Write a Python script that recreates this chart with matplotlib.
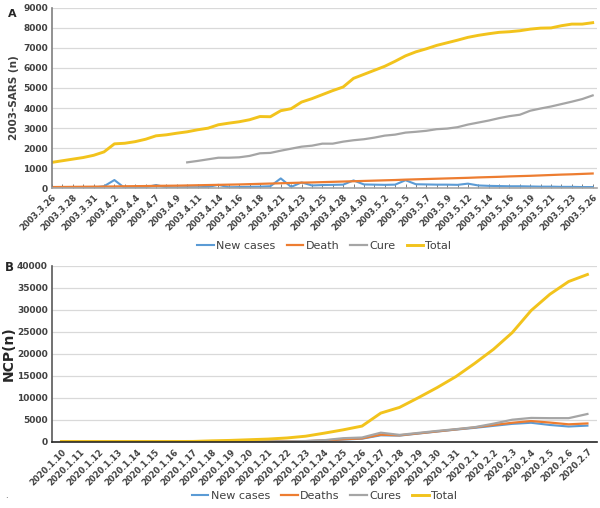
import numpy as np
import matplotlib
matplotlib.use('Agg')
import matplotlib.pyplot as plt

# ---- panel A: 2003 SARS (no Sundays in the series) ----
dates_a = ['2003.3.26', '2003.3.27', '2003.3.28', '2003.3.29', '2003.3.31',
           '2003.4.1', '2003.4.2', '2003.4.3', '2003.4.4', '2003.4.5', '2003.4.7',
           '2003.4.8', '2003.4.9', '2003.4.10', '2003.4.11', '2003.4.12', '2003.4.14',
           '2003.4.15', '2003.4.16', '2003.4.17', '2003.4.18', '2003.4.19', '2003.4.21',
           '2003.4.22', '2003.4.23', '2003.4.24', '2003.4.25', '2003.4.26', '2003.4.28',
           '2003.4.29', '2003.4.30', '2003.5.1', '2003.5.2', '2003.5.3', '2003.5.5',
           '2003.5.6', '2003.5.7', '2003.5.8', '2003.5.9', '2003.5.10', '2003.5.12',
           '2003.5.13', '2003.5.14', '2003.5.15', '2003.5.16', '2003.5.17', '2003.5.19',
           '2003.5.20', '2003.5.21', '2003.5.22', '2003.5.23', '2003.5.24', '2003.5.26']
new_a = [30, 30, 30, 30, 40, 110, 420, 20, 40, 60,
         170, 60, 50, 60, 60, 80, 180, 60, 70, 80,
         90, 110, 500, 80, 300, 150, 170, 180, 190, 400,
         200, 190, 180, 190, 410, 210, 200, 190, 190, 180,
         240, 150, 130, 120, 110, 110, 100, 90, 90, 80,
         80, 70, 70]
death_a = [70, 75, 80, 85, 90, 95, 100, 110, 115, 120,
           130, 135, 140, 150, 160, 170, 180, 190, 200, 215,
           230, 245, 260, 275, 290, 300, 315, 330, 345, 360,
           375, 390, 405, 420, 440, 455, 470, 485, 500, 515,
           530, 550, 565, 580, 600, 615, 630, 650, 670, 690,
           705, 725, 745]
cure_a = [np.nan] * 13 + [1300, 1370, 1450, 1530, 1530,
          1550, 1620, 1750, 1770, 1880, 1980, 2080, 2130, 2230, 2230,
          2330, 2400, 2450, 2530, 2630, 2680, 2780,
          2820, 2870, 2950, 2980, 3050,
          3180, 3280, 3380, 3500, 3600, 3670, 3870, 3980, 4080, 4200, 4320, 4450, 4630]
total_a = [1300, 1380, 1460, 1540, 1650, 1820, 2220, 2250, 2330, 2450,
           2620, 2670, 2750, 2820, 2920, 3000, 3170, 3250, 3320, 3420,
           3580, 3570, 3870, 3970, 4300, 4470, 4670, 4870, 5050, 5480,
           5680, 5880, 6080, 6330, 6600, 6800, 6950, 7120, 7250, 7380,
           7520, 7620, 7700, 7770, 7800, 7850, 7930, 7980, 7990, 8100,
           8180, 8180, 8250]

# ---- panel B: 2020 NCP ----
dates_b = ['2020.1.10', '2020.1.11', '2020.1.12', '2020.1.13', '2020.1.14', '2020.1.15',
           '2020.1.16', '2020.1.17', '2020.1.18', '2020.1.19', '2020.1.20', '2020.1.21',
           '2020.1.22', '2020.1.23', '2020.1.24', '2020.1.25', '2020.1.26', '2020.1.27',
           '2020.1.28', '2020.1.29', '2020.1.30', '2020.1.31', '2020.2.1', '2020.2.2',
           '2020.2.3', '2020.2.4', '2020.2.5', '2020.2.6', '2020.2.7']
new_b = [0, 0, 0, 0, 0, 0, 0, 3, 8, 15, 25, 40, 60, 110, 250, 480, 680, 1450,
         1380, 1850, 2300, 2750, 3150, 3600, 4050, 4300, 3800, 3450, 3650]
death_b = [0, 0, 0, 0, 0, 0, 0, 5, 10, 20, 30, 45, 70, 130, 300, 550, 750, 1600,
           1450, 1900, 2350, 2800, 3250, 3800, 4300, 4700, 4350, 3950, 4150]
cure_b = [0, 0, 0, 0, 0, 0, 0, 5, 10, 20, 30, 50, 80, 150, 350, 800, 950, 2050,
          1550, 2000, 2450, 2850, 3300, 4100, 5000, 5400, 5350, 5350, 6300]
total_b = [41, 41, 41, 41, 41, 41, 45, 62, 200, 300, 450, 600, 850, 1250, 1950,
           2700, 3550, 6500, 7800, 10000, 12300, 14800, 17800, 21000, 24800,
           29800, 33500, 36400, 38000]

colors = ['#5B9BD5', '#ED7D31', '#A5A5A5', '#F2C31C']
txt = '#404040'


def style_axes(ax, ymax, ystep, left_col, bottom_col):
  for s in ['top', 'right']:
    ax.spines[s].set_visible(False)
  ax.spines['left'].set_color(left_col)
  ax.spines['left'].set_linewidth(1.2)
  ax.spines['bottom'].set_color(bottom_col)
  ax.spines['bottom'].set_linewidth(1.2)
  ax.set_ylim(0, ymax)
  ax.set_yticks(np.arange(0, ymax + 1, ystep))
  ax.yaxis.grid(True, color='#D9D9D9', lw=0.9)
  ax.set_axisbelow(True)
  ax.tick_params(axis='y', length=0, pad=3, labelsize=6.5, labelcolor=txt)
  for lab in ax.get_yticklabels():
    lab.set_fontweight('bold')


def draw(ax, x, series, labels, lw):
  for s, c, lab, w in zip(series, colors, labels, lw):
    ax.plot(x, s, color=c, lw=w, label=lab, solid_joinstyle='round')


fig = plt.figure(figsize=(6, 5.08), dpi=100)

# panel A
axA = fig.add_axes([0.0867, 0.629, 0.908, 0.356])
xa = np.arange(len(dates_a))
draw(axA, xa, [new_a, death_a, cure_a, total_a], ['New cases', 'Death', 'Cure', 'Total'],
     [1.5, 1.6, 1.6, 2.1])
axA.set_xlim(0, len(dates_a) - 0.6)
style_axes(axA, 9000, 1000, '#7F7F7F', '#A6A6A6')
axA.set_xticks(xa[::2])
axA.set_xticklabels(dates_a[::2], rotation=45, ha='right', rotation_mode='anchor',
                    fontsize=6, fontweight='bold', color=txt)
axA.set_xticks(xa, minor=True)
axA.tick_params(axis='x', which='both', direction='in', length=3, width=0.7,
                color='#7F7F7F', pad=3)
axA.set_ylabel('2003-SARS (n)', fontsize=7.5, fontweight='bold', color=txt, labelpad=3)
axA.legend(loc='center', bbox_to_anchor=(0.5, -0.32), ncol=4, frameon=False,
           fontsize=8, handlelength=1.5, handletextpad=0.2, columnspacing=1.0,
           labelcolor=txt)

# panel B
axB = fig.add_axes([0.0867, 0.1305, 0.908, 0.3465])
xb = np.arange(len(dates_b))
draw(axB, xb, [new_b, death_b, cure_b, total_b], ['New cases', 'Deaths', 'Cures', 'Total'],
     [1.5, 1.6, 1.6, 2.1])
axB.set_xlim(-0.5, len(dates_b) - 0.5)
style_axes(axB, 40000, 5000, '#595959', '#262626')
axB.set_xticks(xb)
axB.set_xticklabels(dates_b, rotation=45, ha='right', rotation_mode='anchor',
                    fontsize=6, fontweight='bold', color=txt)
axB.tick_params(axis='x', length=0, pad=4)
axB.set_ylabel('NCP(n)', fontsize=10, fontweight='bold', color='#262626', labelpad=1)
axB.legend(loc='center', bbox_to_anchor=(0.5, -0.31), ncol=4, frameon=False,
           fontsize=8, handlelength=1.5, handletextpad=0.2, columnspacing=1.0,
           labelcolor=txt)

fig.text(0.014, 0.972, 'A', fontsize=8, fontweight='bold', color='#262626', va='center')
fig.text(0.008, 0.474, 'B', fontsize=8.5, fontweight='bold', color='#262626', va='center')
fig.text(0.008, 0.02, '.', fontsize=6, color='#404040')

fig.savefig('out.png', dpi=100)
